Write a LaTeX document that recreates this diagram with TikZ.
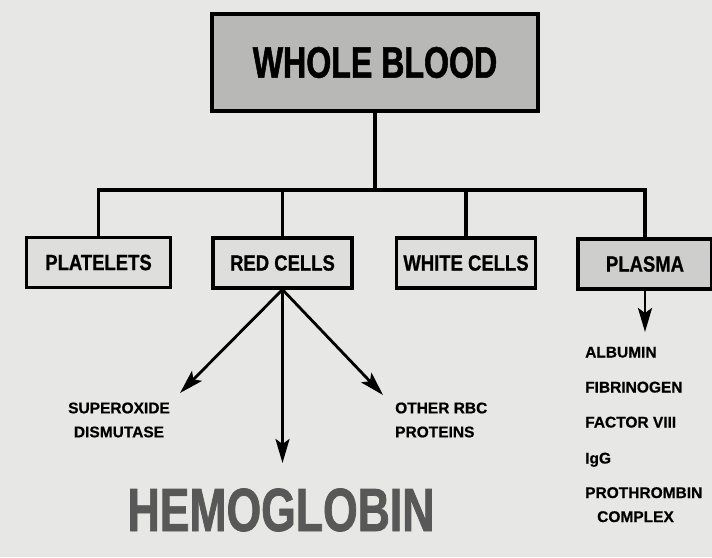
\documentclass[tikz,border=0pt]{standalone}
\usepackage{fontspec}
\setmainfont{Liberation Sans}[FakeBold=0.6]
\newfontfamily\condfont{Liberation Sans}[FakeStretch=0.73,FakeBold=1.2]
\newfontfamily\midfont{Liberation Sans}[FakeStretch=0.84,FakeBold=0.8]
\usetikzlibrary{arrows.meta,positioning}
\definecolor{paper}{RGB}{231,231,229}
\definecolor{boxfill}{RGB}{222,222,220}
\definecolor{plasmafill}{RGB}{206,206,204}
\definecolor{topfill}{RGB}{184,184,182}
\definecolor{hemogray}{RGB}{88,88,88}
\tikzset{
  partbox/.style={draw,line width=3.2pt,fill=boxfill,minimum height=50pt,inner sep=0pt,
    font=\midfont\bfseries\fontsize{22}{24}\selectfont},
  link/.style={line width=3.2pt},
  tipline/.style={line width=2.8pt,-{Stealth[length=24pt,width=14pt,inset=5pt]}},
  itemtext/.style={font=\bfseries\fontsize{15.5}{24}\selectfont,inner sep=0pt}
}

\begin{document}
\begin{tikzpicture}[x=1pt,y=-1pt]
\fill[paper] (0,0) rectangle (712,557);
\useasboundingbox (0,0) rectangle (712,557);
% top box
\node[draw,line width=4pt,fill=topfill,minimum width=326pt,minimum height=97pt,
  font=\condfont\bfseries\fontsize{44}{48}\selectfont] (blood) at (375,62.5) {WHOLE BLOOD};
% the four parts
\node[partbox,minimum width=144pt] (plate) at (98.5,262.5) {PLATELETS};
\node[partbox,minimum width=139pt] (red) at (282.5,263) {RED CELLS};
\node[partbox,minimum width=139pt] (white) at (466,263) {WHITE CELLS};
\node[partbox,fill=plasmafill,minimum width=134pt] (plasma) at (645,264) {PLASMA};
\coordinate (bus) at (375,190);
\draw[link] (blood.south) -- (bus);
\draw[link] (plate.north) -- (plate.north|-bus) -- (plasma.north|-bus) -- (plasma.north);
\draw[link] (red.north) -- (red.north|-bus);
\draw[link] (white.north) -- (white.north|-bus);
% red cell products
\coordinate (sodtip) at (180,393);
\coordinate (hbtip) at (282.5,463);
\coordinate (rbctip) at (383,395);
\foreach \t in {sodtip,hbtip,rbctip}
  \draw[tipline] (red.south) -- (\t);
\node[itemtext,align=center] (sod) at (119,420) {SUPEROXIDE\\DISMUTASE};
\node[itemtext,align=left,anchor=west] (other) at (395,420) {OTHER RBC\\PROTEINS};
\node[font=\condfont\bfseries\fontsize{61}{64}\selectfont,text=hemogray,inner sep=0pt] (hemo) at (281,510) {HEMOGLOBIN};
% plasma products
\coordinate (listtop) at (645,332);
\draw[tipline] (plasma.south) -- (listtop);
\foreach \lab/\yy [count=\i] in {ALBUMIN/352,FIBRINOGEN/387,FACTOR VIII/422,IgG/458}
  \node[itemtext,anchor=west,text height=11pt,text depth=0pt] (prot\i) at (585,\yy) {\lab};
\node[itemtext,anchor=north west,align=left] (prot5) at (585,487) {PROTHROMBIN\\\hspace*{12pt}COMPLEX};
\end{tikzpicture}
\end{document}
